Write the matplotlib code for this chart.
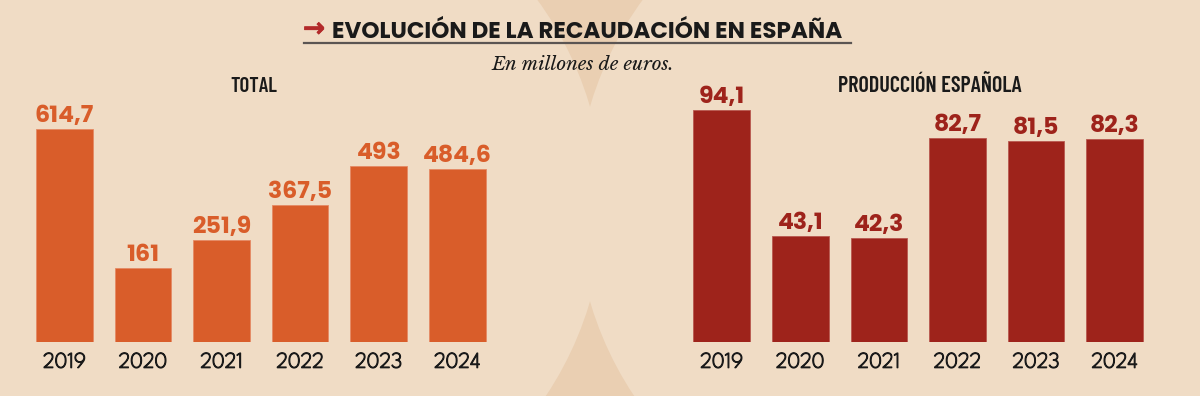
import matplotlib
matplotlib.use('Agg')
import matplotlib.pyplot as plt
import matplotlib.patheffects as pe
from matplotlib.patches import Circle, Rectangle
from matplotlib.lines import Line2D
import numpy as np

# ---- data ----
years = ['2019', '2020', '2021', '2022', '2023', '2024']
total = [614.7, 161, 251.9, 367.5, 493, 484.6]
total_labels = ['614,7', '161', '251,9', '367,5', '493', '484,6']
espanola = [94.1, 43.1, 42.3, 82.7, 81.5, 82.3]
espanola_labels = ['94,1', '43,1', '42,3', '82,7', '81,5', '82,3']

title = 'EVOLUCIÓN DE LA RECAUDACIÓN EN ESPAÑA'
subtitle = 'En millones de euros.'
left_title = 'TOTAL'
right_title = 'PRODUCCIÓN ESPAÑOLA'

# ---- style ----
W, H = 1200, 396
bg_light = '#F0DCC5'
bg_dark = '#EACFB2'
orange = '#D95D2A'
red = '#9E231B'
ink = '#1A1A1A'
BOLDGEO = ['Poppins', 'Lato', 'DejaVu Sans']
SPARTAN = ['League Spartan', 'Lato', 'DejaVu Sans']
COND = ['Barlow Condensed', 'Roboto Condensed', 'Fira Sans Condensed', 'DejaVu Sans']
SERIF = ['Libre Baskerville', 'DejaVu Serif']

fig = plt.figure(figsize=(W / 100, H / 100), dpi=100)
fig.patch.set_facecolor(bg_light)

bg = fig.add_axes([0, 0, 1, 1])
bg.set_xlim(0, W)
bg.set_ylim(H, 0)
bg.axis('off')
bg.add_patch(Rectangle((450, 0), 280, H, fc=bg_dark, ec='none'))
bg.add_patch(Circle((258, 204), 346, fc=bg_light, ec='none'))
bg.add_patch(Circle((922, 204), 346, fc=bg_light, ec='none'))

# title
arrow = bg.text(303, 36.5, '→', color='#B32A2A', fontsize=19, fontweight='bold',
                family='DejaVu Sans', ha='left', va='baseline')
arrow.set_path_effects([pe.withStroke(linewidth=0.5, foreground='#B32A2A')])
bg.text(331.5, 37.7, title, color=ink, fontsize=16.6, fontweight='bold',
        family=BOLDGEO, ha='left', va='baseline')
bg.add_line(Line2D([304, 851], [43, 43], color='#5B5553', lw=1.6))
bg.text(582.5, 70, subtitle, color=ink, fontsize=13.5, style='italic',
        family=SERIF, ha='center', va='baseline')

bg.text(254, 92, left_title, color=ink, fontsize=15, fontweight='semibold',
        family=COND, ha='center', va='baseline')
bg.text(930, 92, right_title, color=ink, fontsize=16, fontweight='semibold',
        family=COND, ha='center', va='baseline')


def px_axes(x0, x1, ytop, ybot):
    return fig.add_axes([x0 / W, 1 - ybot / H, (x1 - x0) / W, (ybot - ytop) / H])


def draw(ax, values, labels, color, ymin, ymax):
    x = np.arange(len(values))
    vals = np.asarray(values, dtype=float)
    ax.set_xlim(-0.5, len(values) - 0.5)
    ax.set_ylim(ymin, ymax)
    ax.bar(x, vals - ymin, bottom=ymin, width=0.72, color=color,
           edgecolor='#E58A64' if color == orange else '#B8584F', linewidth=0.6)
    for xi, v, lab in zip(x, vals, labels):
        ax.annotate(lab, (xi, v), xytext=(0, 5), textcoords='offset points',
                    ha='center', va='baseline', color=color, fontsize=17,
                    fontweight='bold', family=BOLDGEO)
    ax.set_xticks(x, years)
    ax.tick_params(axis='x', length=0, pad=7, labelsize=16, labelcolor=ink)
    for t in ax.get_xticklabels():
        t.set_family(SPARTAN)
        t.set_path_effects([pe.withStroke(linewidth=0.9, foreground=ink)])
    ax.set_yticks([])
    for s in ax.spines.values():
        s.set_visible(False)
    ax.patch.set_alpha(0)


axL = px_axes(25.2, 496.6, 92, 342)
draw(axL, total, total_labels, orange, -78.6, -78.6 + 250 / 0.3077)

axR = px_axes(682.4, 1154.0, 92, 342)
draw(axR, espanola, espanola_labels, red, 0, 250 / 2.462)

fig.savefig('out.png', dpi=100, facecolor=fig.get_facecolor())
